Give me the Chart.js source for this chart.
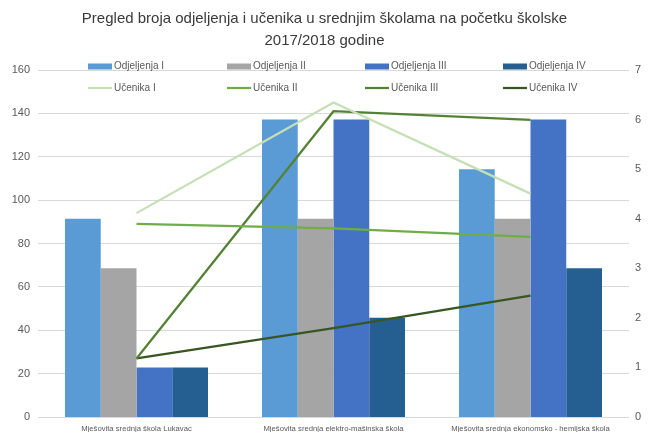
<!DOCTYPE html>
<html>
<head>
<meta charset="utf-8">
<script src="https://cdn.jsdelivr.net/npm/chart.js@4.4.0/dist/chart.umd.min.js"></script>
<style>
html,body{margin:0;padding:0;background:#fff;}
canvas{display:block;}
</style>
</head>
<body>
<canvas id="c" width="649" height="432"></canvas>
<script>
// ---- data ----
const categories = [
  "Mješovita srednja škola Lukavac",
  "Mješovita srednja elektro-mašinska škola",
  "Mješovita srednja ekonomsko - hemijska škola"
];
const odjeljenjaI   = [4, 6, 5];
const odjeljenjaII  = [3, 4, 4];
const odjeljenjaIII = [1, 6, 6];
const odjeljenjaIV  = [1, 2, 3];
const ucenikaI   = [94, 145, 103];
const ucenikaII  = [89, 87, 83];
const ucenikaIII = [27, 141, 137];
const ucenikaIV  = [27, 41, 56];
const titleLines = ["Pregled broja odjeljenja i učenika u srednjim školama na početku školske", "2017/2018 godine"];

const FONT = "'Liberation Sans', Arial, sans-serif";
const TXT = "#595959";

const bg = {
  id: 'bg',
  beforeDraw(chart) {
    const ctx = chart.ctx;
    ctx.save();
    ctx.fillStyle = '#ffffff';
    ctx.fillRect(0, 0, chart.width, chart.height);
    ctx.restore();
  }
};

const customLegend = {
  id: 'customLegend',
  afterDraw(chart) {
    const ctx = chart.ctx;
    const cols = [88, 227, 365, 503];
    const rows = [66.5, 88];
    ctx.save();
    chart.data.datasets.forEach((ds, i) => {
      const r = Math.floor(i / 4), c = i % 4;
      const x = cols[c], y = rows[r];
      if (ds.type === 'line') {
        ctx.strokeStyle = ds.borderColor;
        ctx.lineWidth = 2.25;
        ctx.beginPath();
        ctx.moveTo(x, y);
        ctx.lineTo(x + 24, y);
        ctx.stroke();
      } else {
        ctx.fillStyle = ds.backgroundColor;
        ctx.fillRect(x, y - 3, 24, 6);
      }
      ctx.fillStyle = TXT;
      ctx.font = "10px " + FONT;
      ctx.textBaseline = 'middle';
      ctx.textAlign = 'left';
      ctx.fillText(ds.label, x + 26, y);
    });
    ctx.restore();
  }
};

function barDs(label, data, color) {
  return { type: 'bar', label, data, backgroundColor: color, yAxisID: 'y1', order: 2,
           barPercentage: 1, categoryPercentage: 0.726, borderWidth: 0 };
}
function lineDs(label, data, color) {
  return { type: 'line', label, data, borderColor: color, backgroundColor: color, yAxisID: 'y',
           order: 1, borderWidth: 2.25, pointRadius: 0, tension: 0, fill: false };
}

new Chart(document.getElementById('c'), {
  type: 'bar',
  data: {
    labels: categories,
    datasets: [
      barDs("Odjeljenja I", odjeljenjaI, '#5B9BD5'),
      barDs("Odjeljenja II", odjeljenjaII, '#A5A5A5'),
      barDs("Odjeljenja III", odjeljenjaIII, '#4472C4'),
      barDs("Odjeljenja IV", odjeljenjaIV, '#255E91'),
      lineDs("Učenika I", ucenikaI, '#C5E0B4'),
      lineDs("Učenika II", ucenikaII, '#70AD47'),
      lineDs("Učenika III", ucenikaIII, '#548235'),
      lineDs("Učenika IV", ucenikaIV, '#375623')
    ]
  },
  options: {
    responsive: false,
    animation: false,
    layout: { padding: 0 },
    plugins: {
      legend: { display: false },
      tooltip: { enabled: false },
      title: {
        display: true,
        text: titleLines,
        color: '#3a3a3a',
        font: { family: FONT, size: 15, weight: 'normal', lineHeight: 1.47 },
        padding: { top: 8, bottom: 17.9 }
      }
    },
    scales: {
      x: {
        grid: { display: false, drawTicks: false },
        border: { display: false },
        ticks: { color: TXT, font: { family: FONT, size: 7.7 }, padding: 7, maxRotation: 0, autoSkip: false },
        afterFit(s) { s.height = 15; }
      },
      y: {
        position: 'left',
        min: 0, max: 160,
        ticks: { stepSize: 20, color: TXT, font: { family: FONT, size: 11 }, padding: 8 },
        grid: { color: '#D9D9D9', lineWidth: 1, drawTicks: false },
        border: { display: false },
        afterFit(s) { s.width = 38; }
      },
      y1: {
        position: 'right',
        min: 0, max: 7,
        ticks: { stepSize: 1, color: TXT, font: { family: FONT, size: 11 }, padding: 6 },
        grid: { display: false, drawTicks: false },
        border: { display: false },
        afterFit(s) { s.width = 20; }
      }
    }
  },
  plugins: [bg, customLegend]
});
</script>
</body>
</html>
